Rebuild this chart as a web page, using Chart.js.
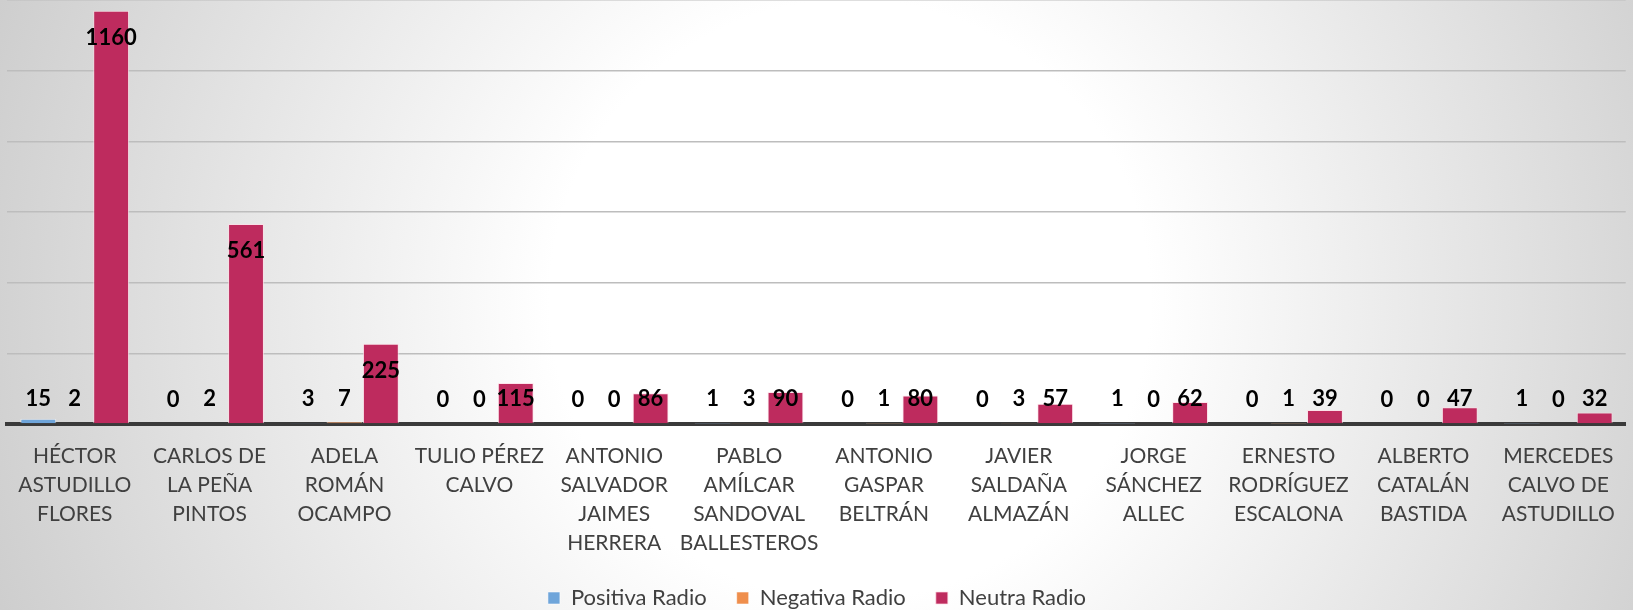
<!DOCTYPE html>
<html>
<head>
<meta charset="utf-8">
<script src="https://cdn.jsdelivr.net/npm/chart.js@4/dist/chart.umd.min.js"></script>
<style>
html,body{margin:0;padding:0;}
body{width:1633px;height:610px;overflow:hidden;background:radial-gradient(circle 1000px at 850px 300px,#ffffff 0%,#ffffff 30%,#c6c6c6 100%);}
canvas{display:block;}
</style>
</head>
<body>
<canvas id="c" width="1633" height="610"></canvas>
<script>
const categories = [
  ["HÉCTOR","ASTUDILLO","FLORES"],
  ["CARLOS DE","LA PEÑA","PINTOS"],
  ["ADELA","ROMÁN","OCAMPO"],
  ["TULIO PÉREZ","CALVO"],
  ["ANTONIO","SALVADOR","JAIMES","HERRERA"],
  ["PABLO","AMÍLCAR","SANDOVAL","BALLESTEROS"],
  ["ANTONIO","GASPAR","BELTRÁN"],
  ["JAVIER","SALDAÑA","ALMAZÁN"],
  ["JORGE","SÁNCHEZ","ALLEC"],
  ["ERNESTO","RODRÍGUEZ","ESCALONA"],
  ["ALBERTO","CATALÁN","BASTIDA"],
  ["MERCEDES","CALVO DE","ASTUDILLO"]
];
const seriesNames = ["Positiva Radio","Negativa Radio","Neutra Radio"];
const positiva = [15,0,3,0,0,1,0,0,1,0,0,1];
const negativa = [2,2,7,0,0,3,1,3,0,1,0,0];
const neutra = [1160,561,225,115,86,90,80,57,62,39,47,32];
const yTickStep = 200;
const yMax = 1190;

const labelPlugin = {
  id: 'barLabels',
  afterDatasetsDraw(chart) {
    const ctx = chart.ctx;
    ctx.save();
    ctx.font = 'bold 22px Lato';
    ctx.fillStyle = '#000000';
    ctx.textAlign = 'center';
    ctx.textBaseline = 'middle';
    chart.data.datasets.forEach((ds, di) => {
      const meta = chart.getDatasetMeta(di);
      meta.data.forEach((bar, i) => {
        const v = ds.data[i];
        const y = Math.min(bar.y + 27, bar.base - 24);
        ctx.fillText(String(v), bar.x, y);
      });
    });
    ctx.restore();
  }
};

new Chart(document.getElementById('c'), {
  type: 'bar',
  data: {
    labels: categories,
    datasets: [
      {label: seriesNames[0], data: positiva, backgroundColor: '#6fa5da', borderColor: 'rgba(255,255,255,0.55)', borderWidth: 1},
      {label: seriesNames[1], data: negativa, backgroundColor: '#ef8e4c', borderColor: 'rgba(255,255,255,0.55)', borderWidth: 1},
      {label: seriesNames[2], data: neutra, backgroundColor: '#be2b5e', borderColor: 'rgba(255,220,230,0.7)', borderWidth: 1}
    ]
  },
  options: {
    responsive: false,
    animation: false,
    devicePixelRatio: 1,
    layout: {padding: {left: 7, right: 6, top: 0, bottom: 0}},
    datasets: {bar: {categoryPercentage: 0.81, barPercentage: 0.985}},
    plugins: {
      tooltip: {enabled: false},
      legend: {
        position: 'bottom',
        maxHeight: 53,
        labels: {
          font: {family: 'Lato', size: 22},
          color: '#404040',
          boxWidth: 12,
          boxHeight: 12,
          padding: 30
        }
      }
    },
    scales: {
      x: {
        grid: {display: false, drawTicks: false},
        border: {display: true, color: '#3a3a3a', width: 4},
        afterFit: (scale) => { scale.height = 133; },
        ticks: {
          font: {family: 'Lato', size: 21, lineHeight: 1.38},
          color: '#404040',
          padding: 18,
          maxRotation: 0,
          autoSkip: false
        }
      },
      y: {
        min: 0,
        max: yMax,
        ticks: {display: false, stepSize: yTickStep},
        border: {display: false},
        grid: {
          drawTicks: false,
          color: (c) => c.tick && c.tick.value === 0 ? 'rgba(0,0,0,0)' : '#bdbdbd',
          lineWidth: 1.5
        }
      }
    }
  },
  plugins: [labelPlugin]
});
</script>
</body>
</html>
